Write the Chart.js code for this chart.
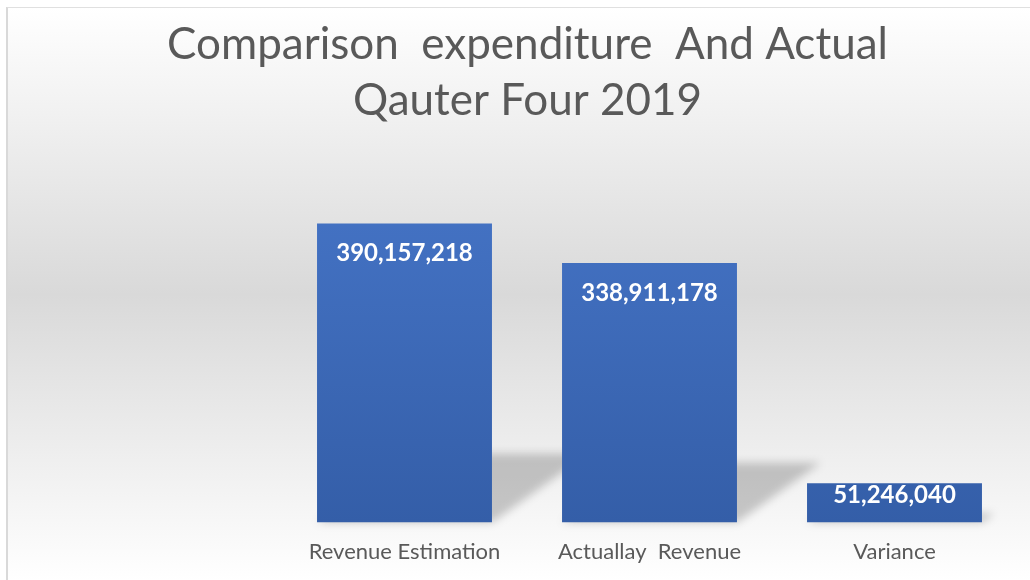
<!DOCTYPE html>
<html>
<head>
<meta charset="utf-8">
<script src="https://cdn.jsdelivr.net/npm/chart.js@4.4.1/dist/chart.umd.min.js"></script>
<style>
  html, body { margin: 0; padding: 0; background: #ffffff; overflow: hidden; }
  #frame {
    position: absolute; left: 6px; top: 7px;
    width: 1040px; height: 590px;
    border-left: 2px solid #d9d9d9;
    border-top: 1px solid #e0e0e0;
  }
  #chartBox { position: absolute; left: 0; top: 0; width: 1022px; height: 573px; }
</style>
</head>
<body>
<div id="frame">
  <div id="chartBox"><canvas id="budgetChart"></canvas></div>
</div>
<script>
// chart data
const categories = ['Revenue Estimation', 'Actuallay  Revenue', 'Variance'];
const amounts = [390157218, 338911178, 51246040];
const titleLines = ['Comparison  expenditure  And Actual', 'Qauter Four 2019'];

const FONT = 'Lato, "Open Sans", sans-serif';

// background gradient behind everything
const backgroundPlugin = {
    id: 'panelBackground',
    beforeDraw(chart) {
        const { ctx, width, height } = chart;
        const g = ctx.createLinearGradient(0, 0, 0, height);
        g.addColorStop(0, '#ffffff');
        g.addColorStop(0.5, '#d9d9d9');
        g.addColorStop(1, '#ffffff');
        ctx.save();
        ctx.fillStyle = g;
        ctx.fillRect(0, 0, width, height);
        ctx.restore();
    }
};

// perspective shadow cast behind each bar
const shadowPlugin = {
    id: 'barShadow',
    beforeDatasetsDraw(chart) {
        const { ctx } = chart;
        const meta = chart.getDatasetMeta(0);
        ctx.save();
        ctx.filter = 'blur(4px)';
        ctx.fillStyle = 'rgba(0,0,0,0.2)';
        meta.data.forEach(bar => {
            const h = bar.base - bar.y;
            const left = bar.x - bar.width / 2;
            const right = bar.x + bar.width / 2;
            const dy = h * 0.23;
            const dx = dy * 1.4;
            ctx.beginPath();
            ctx.moveTo(left, bar.base);
            ctx.lineTo(right, bar.base);
            ctx.lineTo(right + dx, bar.base - dy);
            ctx.lineTo(left + dx, bar.base - dy);
            ctx.closePath();
            ctx.fill();
        });
        ctx.restore();
    }
};

// white value labels near the top inside each bar
const valueLabelPlugin = {
    id: 'valueLabels',
    afterDatasetsDraw(chart) {
        const { ctx } = chart;
        const meta = chart.getDatasetMeta(0);
        ctx.save();
        ctx.fillStyle = '#ffffff';
        ctx.font = 'bold 24px ' + FONT;
        ctx.textAlign = 'center';
        ctx.textBaseline = 'middle';
        meta.data.forEach((bar, i) => {
            const h = bar.base - bar.y;
            const offset = Math.min(30, h * 0.3);
            ctx.fillText(amounts[i].toLocaleString('en-US'), bar.x, bar.y + offset);
        });
        ctx.restore();
    }
};

function barGradient(context) {
    const area = context.chart.chartArea;
    if (!area) return '#4472c4';
    const g = context.chart.ctx.createLinearGradient(0, area.top, 0, area.bottom);
    g.addColorStop(0, '#4574c6');
    g.addColorStop(1, '#345ea8');
    return g;
}

const ctx = document.getElementById('budgetChart');

new Chart(ctx, {
    type: 'bar',
    data: {
        labels: categories,
        datasets: [{
            data: amounts,
            backgroundColor: barGradient,
            borderWidth: 0,
            barPercentage: 1,
            categoryPercentage: 0.714
        }]
    },
    options: {
        responsive: true,
        maintainAspectRatio: false,
        animation: false,
        layout: {
            padding: { left: 30, right: 13, top: 0, bottom: 0 }
        },
        plugins: {
            legend: { display: false },
            tooltip: { enabled: false },
            title: {
                display: true,
                text: titleLines,
                color: '#595959',
                font: { family: FONT, size: 44, weight: 'normal', lineHeight: 1.27 },
                padding: { top: 9, bottom: 49 }
            }
        },
        scales: {
            y: {
                display: true,
                min: 0,
                max: 450000000,
                grid: { display: false, drawTicks: false },
                border: { display: false },
                ticks: { display: false },
                afterFit(axis) { axis.width = 244; }
            },
            x: {
                grid: { display: false, drawTicks: false },
                border: { display: false },
                ticks: {
                    color: '#595959',
                    padding: 16,
                    font: { family: FONT, size: 22 }
                }
            }
        }
    },
    plugins: [backgroundPlugin, shadowPlugin, valueLabelPlugin]
});
</script>
</body>
</html>
